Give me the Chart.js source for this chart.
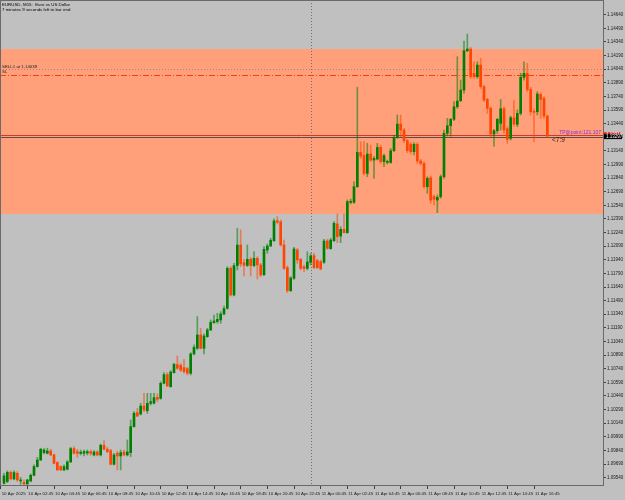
<!DOCTYPE html>
<html>
<head>
<meta charset="utf-8">
<title>EURUSD M15</title>
<script src="https://cdn.jsdelivr.net/npm/chart.js@4/dist/chart.umd.min.js"></script>
<style>
  html, body { margin: 0; padding: 0; background: #c0c0c0; }
  #wrap { width: 625px; height: 500px; }
</style>
</head>
<body>
<div id="wrap"><canvas id="chart" width="625" height="500"></canvas></div>
<script>
// EURUSD M15 candles, 10 Apr 01:00 -> 11 Apr 17:45
const opens = [
  1.09478, 1.09497, 1.09599, 1.09526, 1.09588, 1.09504, 1.09489, 1.09471, 1.09504, 1.09566,
  1.09662, 1.09735, 1.09816, 1.09808, 1.09834, 1.09790, 1.09706, 1.09662, 1.09625, 1.09633,
  1.09713, 1.09860, 1.09827, 1.09808, 1.09808, 1.09812, 1.09827, 1.09790, 1.09823, 1.09790,
  1.09897, 1.09853, 1.09838, 1.09687, 1.09808, 1.09779, 1.09823, 1.09790, 1.09816, 1.10102,
  1.10256, 1.10241, 1.10329, 1.10278, 1.10359, 1.10359, 1.10425, 1.10414, 1.10579, 1.10675,
  1.10543, 1.10697, 1.10785, 1.10778, 1.10752, 1.10741, 1.10690, 1.10903, 1.10965, 1.11112,
  1.10965, 1.11093, 1.11167, 1.11248, 1.11259, 1.11277, 1.11343, 1.11406, 1.11846, 1.11552,
  1.11876, 1.12103, 1.11909, 1.11879, 1.11945, 1.11876, 1.11956, 1.11883, 1.11776, 1.12048,
  1.12092, 1.12151, 1.12371, 1.12357, 1.12103, 1.11854, 1.11600, 1.11736, 1.12048, 1.11945,
  1.11865, 1.11846, 1.11912, 1.11986, 1.11931, 1.11920, 1.11912, 1.12147, 1.12063, 1.12151,
  1.12335, 1.12202, 1.12276, 1.12239, 1.12573, 1.12573, 1.12745, 1.13123, 1.13090, 1.12892,
  1.13105, 1.13039, 1.13050, 1.13178, 1.13021, 1.13013, 1.13013, 1.13142, 1.13289, 1.13435,
  1.13369, 1.13252, 1.13215, 1.13131, 1.13212, 1.13028, 1.13002, 1.12745, 1.12844, 1.12635,
  1.12598, 1.12635, 1.12855, 1.13333, 1.13417, 1.13487, 1.13626, 1.13693, 1.13810, 1.14243,
  1.14262, 1.13994, 1.13957, 1.14085, 1.13847, 1.13707, 1.13608, 1.13325, 1.13362, 1.13443,
  1.13604, 1.13384, 1.13278, 1.13505, 1.13432, 1.13553, 1.13950, 1.13994, 1.13817, 1.13571,
  1.13571, 1.13762, 1.13718, 1.13524
];
const highs = [
  1.09588, 1.09614, 1.09614, 1.09614, 1.09607, 1.09544, 1.09515, 1.09522, 1.09581, 1.09680,
  1.09764, 1.09864, 1.09860, 1.09864, 1.09853, 1.09801, 1.09717, 1.09673, 1.09680, 1.09728,
  1.09875, 1.09882, 1.09853, 1.09845, 1.09845, 1.09845, 1.09845, 1.09838, 1.09838, 1.09911,
  1.09948, 1.09875, 1.09853, 1.09808, 1.09831, 1.09845, 1.09845, 1.09955, 1.10175, 1.10267,
  1.10304, 1.10359, 1.10469, 1.10469, 1.10469, 1.10469, 1.10462, 1.10597, 1.10697, 1.10697,
  1.10719, 1.10800, 1.10881, 1.10800, 1.10844, 1.10756, 1.10917, 1.11002, 1.11314, 1.11185,
  1.11123, 1.11185, 1.11277, 1.11332, 1.11351, 1.11369, 1.11431, 1.11865, 1.11865, 1.11901,
  1.12287, 1.12269, 1.11945, 1.12103, 1.11967, 1.12030, 1.11975, 1.11901, 1.12085, 1.12114,
  1.12177, 1.12390, 1.12415, 1.12379, 1.12158, 1.11872, 1.11754, 1.12078, 1.12067, 1.11956,
  1.11883, 1.12030, 1.12011, 1.12011, 1.11945, 1.11938, 1.12166, 1.12166, 1.12177, 1.12360,
  1.12445, 1.12305, 1.12445, 1.12599, 1.12610, 1.12800, 1.13839, 1.13241, 1.13241, 1.13223,
  1.13204, 1.13076, 1.13223, 1.13204, 1.13105, 1.13039, 1.13167, 1.13314, 1.13535, 1.13535,
  1.13388, 1.13267, 1.13230, 1.13230, 1.13230, 1.13046, 1.13021, 1.12855, 1.12863, 1.12653,
  1.12653, 1.12874, 1.13369, 1.13498, 1.13498, 1.13682, 1.14177, 1.13920, 1.14350, 1.14427,
  1.14280, 1.14122, 1.14122, 1.14159, 1.13865, 1.13718, 1.13626, 1.13377, 1.13498, 1.13707,
  1.13626, 1.13406, 1.13524, 1.13700, 1.13590, 1.13994, 1.14122, 1.14104, 1.13839, 1.13600,
  1.13792, 1.13781, 1.13737, 1.13535
];
const lows = [
  1.09467, 1.09486, 1.09515, 1.09515, 1.09497, 1.09467, 1.09464, 1.09464, 1.09493, 1.09559,
  1.09655, 1.09728, 1.09801, 1.09801, 1.09783, 1.09691, 1.09618, 1.09618, 1.09618, 1.09625,
  1.09706, 1.09801, 1.09764, 1.09790, 1.09779, 1.09790, 1.09786, 1.09779, 1.09779, 1.09779,
  1.09845, 1.09816, 1.09680, 1.09680, 1.09625, 1.09625, 1.09779, 1.09779, 1.09772, 1.10095,
  1.10212, 1.10230, 1.10267, 1.10249, 1.10340, 1.10351, 1.10377, 1.10403, 1.10572, 1.10542,
  1.10535, 1.10690, 1.10734, 1.10708, 1.10690, 1.10671, 1.10671, 1.10892, 1.10954, 1.10958,
  1.10903, 1.11086, 1.11160, 1.11240, 1.11240, 1.11240, 1.11332, 1.11395, 1.11541, 1.11541,
  1.11828, 1.11865, 1.11762, 1.11865, 1.11762, 1.11865, 1.11729, 1.11754, 1.11765, 1.12011,
  1.12085, 1.12140, 1.12335, 1.12092, 1.11835, 1.11578, 1.11589, 1.11725, 1.11901, 1.11828,
  1.11810, 1.11828, 1.11883, 1.11843, 1.11843, 1.11828, 1.11901, 1.12056, 1.12056, 1.12140,
  1.12129, 1.12129, 1.12232, 1.12232, 1.12555, 1.12562, 1.12738, 1.13057, 1.12874, 1.12855,
  1.13021, 1.12837, 1.13039, 1.13002, 1.12965, 1.12995, 1.13002, 1.13131, 1.13278, 1.13296,
  1.13230, 1.13120, 1.13105, 1.13094, 1.13002, 1.12984, 1.12727, 1.12672, 1.12562, 1.12543,
  1.12459, 1.12617, 1.12837, 1.13303, 1.13303, 1.13472, 1.13608, 1.13682, 1.13773, 1.14232,
  1.13939, 1.13939, 1.13939, 1.13828, 1.13682, 1.13553, 1.13296, 1.13193, 1.13333, 1.13369,
  1.13333, 1.13223, 1.13259, 1.13413, 1.13406, 1.13535, 1.13920, 1.13792, 1.13535, 1.13241,
  1.13535, 1.13498, 1.13498, 1.13289
];
const closes = [
  1.09559, 1.09599, 1.09526, 1.09596, 1.09515, 1.09511, 1.09471, 1.09515, 1.09566, 1.09662,
  1.09735, 1.09853, 1.09845, 1.09834, 1.09790, 1.09698, 1.09625, 1.09625, 1.09662, 1.09713,
  1.09860, 1.09808, 1.09808, 1.09820, 1.09827, 1.09827, 1.09808, 1.09823, 1.09790, 1.09897,
  1.09853, 1.09827, 1.09687, 1.09790, 1.09779, 1.09816, 1.09790, 1.09823, 1.10102, 1.10249,
  1.10219, 1.10329, 1.10285, 1.10359, 1.10377, 1.10421, 1.10403, 1.10579, 1.10675, 1.10550,
  1.10704, 1.10789, 1.10745, 1.10726, 1.10708, 1.10690, 1.10903, 1.10976, 1.11112, 1.10965,
  1.11101, 1.11167, 1.11251, 1.11266, 1.11284, 1.11343, 1.11402, 1.11846, 1.11552, 1.11876,
  1.12103, 1.11894, 1.11879, 1.11945, 1.11876, 1.11956, 1.11883, 1.11773, 1.12056, 1.12092,
  1.12155, 1.12368, 1.12353, 1.12103, 1.11846, 1.11600, 1.11740, 1.12059, 1.11938, 1.11846,
  1.11843, 1.11916, 1.11982, 1.11854, 1.11854, 1.11839, 1.12147, 1.12067, 1.12158, 1.12342,
  1.12195, 1.12276, 1.12239, 1.12581, 1.12580, 1.12745, 1.13123, 1.13083, 1.12892, 1.13105,
  1.13039, 1.13057, 1.13178, 1.13021, 1.13087, 1.13021, 1.13142, 1.13289, 1.13435, 1.13369,
  1.13252, 1.13142, 1.13131, 1.13212, 1.13028, 1.13002, 1.12745, 1.12837, 1.12598, 1.12606,
  1.12628, 1.12855, 1.13333, 1.13417, 1.13487, 1.13626, 1.13689, 1.13810, 1.14243, 1.14262,
  1.13957, 1.13957, 1.14085, 1.13847, 1.13700, 1.13608, 1.13325, 1.13362, 1.13487, 1.13604,
  1.13369, 1.13267, 1.13505, 1.13435, 1.13553, 1.13950, 1.13994, 1.13817, 1.13571, 1.13564,
  1.13766, 1.13707, 1.13524, 1.13303
];

// axis ticks
const priceTicks = [
  1.09540, 1.09690, 1.09840, 1.09990, 1.10140, 1.10290, 1.10440, 1.10590, 1.10740, 1.10890,
  1.11040, 1.11190, 1.11340, 1.11490, 1.11640, 1.11790, 1.11940, 1.12090, 1.12240, 1.12390,
  1.12540, 1.12690, 1.12840, 1.12990, 1.13140, 1.13290, 1.13440, 1.13590, 1.13740, 1.13890,
  1.14040, 1.14190, 1.14340, 1.14490, 1.14640
];
const timeTickBars = [-1, 7, 15, 23, 31, 39, 47, 55, 63, 71, 79, 87, 95, 103, 111, 119, 127, 135, 143, 151, 159];
const timeTickLabels = [
  '10 Apr 2025', '10 Apr 02:45', '10 Apr 04:45', '10 Apr 06:45', '10 Apr 08:45', '10 Apr 10:45',
  '10 Apr 12:45', '10 Apr 14:45', '10 Apr 16:45', '10 Apr 18:45', '10 Apr 20:45', '10 Apr 22:45',
  '11 Apr 00:45', '11 Apr 02:45', '11 Apr 04:45', '11 Apr 06:45', '11 Apr 08:45', '11 Apr 10:45',
  '11 Apr 12:45', '11 Apr 14:45', '11 Apr 16:45'
];

// levels on the chart
const zoneTop = 1.14262;
const zoneBottom = 1.12445;
const sellLevel = 1.14039;
const stopLevel = 1.13976;
const bidPrice = 1.13297;
const askPrice = 1.13318;
const daySeparatorBar = 92;

const FONT = 'Liberation Sans, Arial, sans-serif';
const BULL = '#008000';
const BEAR = '#ff4500';

const bull = opens.map((o, i) => closes[i] >= o);

const mtOverlay = {
    id: 'mtOverlay',
    beforeDraw(chart) {
        const ctx = chart.ctx;
        ctx.save();
        ctx.fillStyle = '#c0c0c0';
        ctx.fillRect(0, 0, chart.width, chart.height);
        ctx.restore();
    },
    beforeDatasetsDraw(chart) {
        const { ctx, chartArea: a, scales: { x, y } } = chart;
        ctx.save();
        // order zone
        const zt = y.getPixelForValue(zoneTop);
        const zb = y.getPixelForValue(zoneBottom);
        ctx.fillStyle = '#ffa07a';
        ctx.fillRect(a.left, zt, a.right - a.left, zb - zt);

        // day separator
        const sx = Math.round(x.getPixelForValue(daySeparatorBar)) + 0.5;
        ctx.strokeStyle = '#707070';
        ctx.lineWidth = 1;
        ctx.setLineDash([1, 2]);
        ctx.beginPath();
        ctx.moveTo(sx, a.top);
        ctx.lineTo(sx, a.bottom);
        ctx.stroke();

        // sell entry (dotted) and stop loss (dash-dot)
        const hline = (price, color, dash) => {
            const py = Math.round(y.getPixelForValue(price)) + 0.5;
            ctx.strokeStyle = color;
            ctx.setLineDash(dash);
            ctx.beginPath();
            ctx.moveTo(a.left, py);
            ctx.lineTo(a.right, py);
            ctx.stroke();
        };
        hline(sellLevel, '#a08878', [1, 2]);
        hline(stopLevel, '#ff3a1a', [6, 2, 1, 2]);
        hline(askPrice, '#e0302a', []);
        hline(bidPrice, '#505050', []);
        ctx.restore();
    },
    afterDraw(chart) {
        const { ctx, chartArea: a, scales: { y } } = chart;
        ctx.save();
        // frame
        ctx.strokeStyle = '#6a6a6a';
        ctx.lineWidth = 1;
        ctx.setLineDash([]);
        ctx.strokeRect(a.left + 0.5, a.top + 0.5, a.right - a.left, a.bottom - a.top);

        ctx.textBaseline = 'alphabetic';
        ctx.textAlign = 'left';
        ctx.fillStyle = '#000';
        ctx.font = '4.4px ' + FONT;
        ctx.fillText('EURUSD, M15:  Euro vs US Dollar', 2, 5.5);
        ctx.fillText('7 minutes 9 seconds left to bar end', 2, 10.5);

        ctx.fillStyle = '#222';
        ctx.fillText('SELL1 at ' + sellLevel.toFixed(5), 2, y.getPixelForValue(sellLevel) - 1.5);
        ctx.fillText('SL', 2, y.getPixelForValue(stopLevel) - 2);

        // trade info text
        ctx.fillStyle = '#8a2be2';
        ctx.font = '5px ' + FONT;
        ctx.textAlign = 'right';
        ctx.fillText('TP@point:121.107', a.right - 2, y.getPixelForValue(askPrice) - 1);

        // bar countdown
        ctx.fillStyle = '#202020';
        ctx.font = '6.5px ' + FONT;
        ctx.textAlign = 'left';
        ctx.textBaseline = 'middle';
        ctx.fillText('<7:9', 552, y.getPixelForValue(bidPrice) + 3.5);

        // price labels on the axis
        const tag = (price, bg) => {
            const py = y.getPixelForValue(price);
            ctx.fillStyle = bg;
            ctx.fillRect(a.right + 1, py - 2.5, 18, 5);
            ctx.fillStyle = '#fff';
            ctx.font = '4.5px ' + FONT;
            ctx.textAlign = 'left';
            ctx.textBaseline = 'middle';
            ctx.fillText(price.toFixed(5), a.right + 3, py);
        };
        tag(askPrice, '#e02020');
        tag(bidPrice, '#000');
        ctx.restore();
    }
};

new Chart(document.getElementById('chart'), {
    type: 'bar',
    data: {
        datasets: [
            {
                label: 'body',
                data: opens.map((o, i) => ({ x: i, y: [o, closes[i]] })),
                backgroundColor: bull.map(b => b ? BULL : BEAR),
                barThickness: 2,
                minBarLength: 1,
                borderWidth: 0,
                grouped: false,
                order: 0
            },
            {
                label: 'wick',
                data: opens.map((o, i) => ({ x: i, y: [lows[i], highs[i]] })),
                backgroundColor: bull.map(b => b ? 'rgba(0,128,0,0.55)' : 'rgba(255,69,0,0.55)'),
                barThickness: 1,
                borderWidth: 0,
                grouped: false,
                order: 1
            }
        ]
    },
    options: {
        responsive: false,
        animation: false,
        devicePixelRatio: 1,
        layout: { padding: 0 },
        plugins: { legend: { display: false }, tooltip: { enabled: false } },
        scales: {
            x: {
                type: 'linear',
                min: -1.2,
                max: 179.7,
                offset: false,
                border: { display: false },
                grid: { drawOnChartArea: false, offset: false, tickLength: 4, color: '#404040' },
                ticks: {
                    autoSkip: false,
                    maxRotation: 0,
                    align: 'start',
                    labelOffset: 1,
                    padding: 2,
                    color: '#1a1a1a',
                    font: { family: FONT, size: 4.4 },
                    callback: (v, i) => timeTickLabels[i]
                },
                afterBuildTicks: s => { s.ticks = timeTickBars.map(v => ({ value: v })); },
                afterFit: s => { s.height = 15; s.paddingLeft = 0; s.paddingRight = 0; }
            },
            y: {
                type: 'linear',
                position: 'right',
                min: 1.09459,
                max: 1.14802,
                border: { display: false },
                grid: { drawOnChartArea: false, tickLength: 3, color: '#404040' },
                ticks: {
                    autoSkip: false,
                    padding: 1,
                    color: '#1a1a1a',
                    font: { family: FONT, size: 4.5 },
                    callback: v => v.toFixed(5)
                },
                afterBuildTicks: s => { s.ticks = priceTicks.map(v => ({ value: v })); },
                afterFit: s => { s.width = 22; s.paddingTop = 0; s.paddingBottom = 0; }
            }
        }
    },
    plugins: [mtOverlay]
});
</script>
</body>
</html>
